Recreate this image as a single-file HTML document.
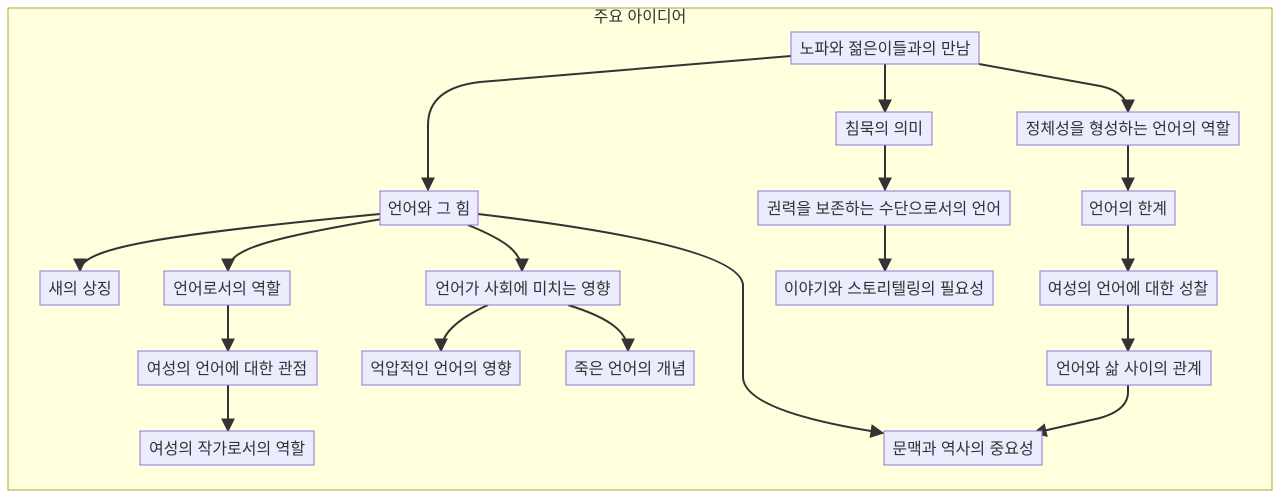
<!DOCTYPE html>
<html><head><meta charset="utf-8"><style>
body{margin:0;background:#fff;width:1280px;height:497px;overflow:hidden}
svg{display:block}
text{font-family:"Liberation Sans","Noto Sans CJK KR",sans-serif;font-size:16px;fill:#333}
.n{fill:#ececff;stroke:#9370db;stroke-width:1}
.e{fill:none;stroke:#333;stroke-width:2}
</style></head><body>
<svg width="1280" height="497" viewBox="0 0 1280 497">
<defs><marker id="a" viewBox="0 0 10 10" refX="9" refY="5" markerWidth="7" markerHeight="7" orient="auto"><path d="M0,0L10,5L0,10z" fill="#333"/></marker></defs>
<rect x="8" y="8" width="1264" height="482" fill="#ffffde" stroke="#aaaa33"/>
<text x="640" y="22" text-anchor="middle">주요 아이디어</text>
<g class="e" marker-end="url(#a)">
<path d="M791,56 L480,82 Q428,88 428,125 L428,190"/>
<path d="M885,64 L885,112"/>
<path d="M979,64 L1100,86 Q1128,92 1128,112"/>
<path d="M885,145 L885,190"/>
<path d="M885,225 L885,271"/>
<path d="M1128,145 L1128,190"/>
<path d="M1128,225 L1128,271"/>
<path d="M1128,305 L1128,351"/>
<path d="M1128,385 L1128,392 Q1128,410 1100,418 L1034,433"/>
<path d="M380,214 C160,235 80,248 80,271"/>
<path d="M382,219 C260,240 228,250 228,271"/>
<path d="M468,225 C505,240 522,252 522,271"/>
<path d="M478,214 Q740,245 743,285 L743,378 Q746,412 883,433"/>
<path d="M228,305 L228,351"/>
<path d="M228,385 L228,431"/>
<path d="M488,305 C455,320 441,335 441,351"/>
<path d="M568,305 C610,318 628,332 628,351"/>
</g>
<g>
<rect class="n" x="791" y="32" width="188" height="32"/><text x="885" y="54" text-anchor="middle">노파와 젊은이들과의 만남</text>
<rect class="n" x="836" y="112" width="96" height="33"/><text x="884" y="134" text-anchor="middle">침묵의 의미</text>
<rect class="n" x="1017" y="112" width="222" height="33"/><text x="1128" y="134" text-anchor="middle">정체성을 형성하는 언어의 역할</text>
<rect class="n" x="380" y="191" width="98" height="34"/><text x="429" y="214" text-anchor="middle">언어와 그 힘</text>
<rect class="n" x="758" y="191" width="252" height="34"/><text x="884" y="214" text-anchor="middle">권력을 보존하는 수단으로서의 언어</text>
<rect class="n" x="1082" y="191" width="93" height="34"/><text x="1128" y="214" text-anchor="middle">언어의 한계</text>
<rect class="n" x="40" y="271" width="79" height="34"/><text x="80" y="294" text-anchor="middle">새의 상징</text>
<rect class="n" x="164" y="271" width="126" height="34"/><text x="227" y="294" text-anchor="middle">언어로서의 역할</text>
<rect class="n" x="426" y="271" width="194" height="34"/><text x="523" y="294" text-anchor="middle">언어가 사회에 미치는 영향</text>
<rect class="n" x="776" y="271" width="217" height="34"/><text x="884" y="294" text-anchor="middle">이야기와 스토리텔링의 필요성</text>
<rect class="n" x="1040" y="271" width="177" height="34"/><text x="1128" y="294" text-anchor="middle">여성의 언어에 대한 성찰</text>
<rect class="n" x="138" y="351" width="179" height="34"/><text x="227" y="374" text-anchor="middle">여성의 언어에 대한 관점</text>
<rect class="n" x="362" y="351" width="158" height="34"/><text x="441" y="374" text-anchor="middle">억압적인 언어의 영향</text>
<rect class="n" x="566" y="351" width="128" height="34"/><text x="630" y="374" text-anchor="middle">죽은 언어의 개념</text>
<rect class="n" x="1047" y="351" width="164" height="34"/><text x="1129" y="374" text-anchor="middle">언어와 삶 사이의 관계</text>
<rect class="n" x="140" y="431" width="174" height="34"/><text x="227" y="454" text-anchor="middle">여성의 작가로서의 역할</text>
<rect class="n" x="884" y="431" width="158" height="34"/><text x="963" y="454" text-anchor="middle">문맥과 역사의 중요성</text>
</g>
</svg>
</body></html>
